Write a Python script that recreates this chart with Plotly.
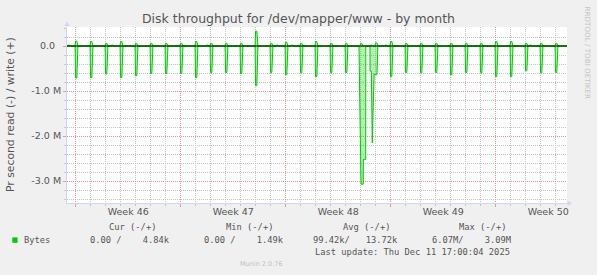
import plotly.graph_objects as go
from datetime import datetime, timedelta

# ---------------- data ----------------
x_start = "2025-11-08 10:05"
x_end = "2025-12-11 18:05"

spike_days = [
    "2025-11-09", "2025-11-10", "2025-11-11", "2025-11-12", "2025-11-13",
    "2025-11-14", "2025-11-15", "2025-11-16", "2025-11-17", "2025-11-18",
    "2025-11-19", "2025-11-20", "2025-11-21", "2025-11-22", "2025-11-23",
    "2025-11-24", "2025-11-25", "2025-11-26", "2025-11-27", "2025-11-28",
    "2025-11-29", "2025-11-30", "2025-12-01", "2025-12-02", "2025-12-03",
    "2025-12-04", "2025-12-05", "2025-12-06", "2025-12-07", "2025-12-08",
    "2025-12-09", "2025-12-10", "2025-12-11",
]
# nightly read peaks (MB/s, plotted negative); None = see anomaly arrays
read_peak_M = [
    -0.71, -0.70, -0.62, -0.70, -0.66, -0.61, -0.61, -0.61, -0.70, -0.59,
    -0.59, -0.61, -0.88, -0.59, -0.64, -0.59, -0.68, -0.59, -0.59, None,
    None, -0.68, -0.59, -0.59, -0.59, -0.64, -0.59, -0.59, -0.68, -0.68,
    -0.55, -0.59, -0.59,
]
# nightly write peaks (MB/s, positive)
write_peak_M = [
    0.11, 0.10, 0.06, 0.10, 0.06, 0.06, 0.06, 0.06, 0.10, 0.06,
    0.06, 0.06, 0.33, 0.06, 0.08, 0.06, 0.10, 0.06, 0.06, 0.06,
    0.07, 0.10, 0.06, 0.06, 0.06, 0.06, 0.06, 0.06, 0.10, 0.10,
    0.06, 0.06, 0.06,
]
# the large read burst around 28 Nov
anomaly_read_times = [
    "2025-11-27 21:15", "2025-11-28 00:30", "2025-11-28 04:05", "2025-11-28 04:15",
    "2025-11-28 08:00", "2025-11-28 08:10", "2025-11-28 14:50", "2025-11-28 15:00",
    "2025-11-28 17:00", "2025-11-28 18:30", "2025-11-28 21:30", "2025-11-29 02:00",
    "2025-11-29 03:30",
]
anomaly_read_M = [0, -3.07, -3.07, -2.52, -2.52, 0, 0, -0.56, -0.56, -2.15, -0.63, -0.63, 0]
# small daytime write bumps
bump_times = [
    "2025-11-08 12:00", "2025-11-11 09:30", "2025-11-17 17:30", "2025-11-22 09:30",
    "2025-11-23 09:30", "2025-11-28 16:00", "2025-11-29 15:00", "2025-12-06 15:00",
    "2025-12-09 07:00",
]
bump_write_M = [0.02, 0.02, 0.02, 0.02, 0.02, 0.02, 0.02, 0.015, 0.02]

week_lines = ["2025-11-09", "2025-11-16", "2025-11-23", "2025-11-30", "2025-12-07"]
week_label_pos = ["2025-11-12 12:00", "2025-11-19 12:00", "2025-11-26 12:00",
                  "2025-12-03 12:00", "2025-12-10 12:00"]
week_labels = ["Week 46", "Week 47", "Week 48", "Week 49", "Week 50"]

ytick_vals = [0, -1e6, -2e6, -3e6]
ytick_text = ["0.0\u00a0\u00a0", "-1.0 M", "-2.0 M", "-3.0 M"]
y_range = [-3.489e6, 0.4222e6]

legend_headers = ["Cur (-/+)", "Min (-/+)", "Avg (-/+)", "Max (-/+)"]
legend_values = ["0.00 /    4.84k", "0.00 /    1.49k", "99.42k/   13.72k", "6.07M/    3.09M"]
last_update = "Last update: Thu Dec 11 17:00:04 2025"

# ---------------- helpers ----------------
PULSE_OFFS_H = [-1.0, -0.2, 1.8, 3.6]
PULSE_SCALE = [0, 1, 1, 0]


def pulses(times, peaks):
    pts = []
    for t, p in zip(times, peaks):
        if p is None:
            continue
        t0 = datetime.fromisoformat(t)
        for off, m in zip(PULSE_OFFS_H, PULSE_SCALE):
            pts.append((t0 + timedelta(hours=off), p * m * 1e6))
    return pts


def series(points):
    points = [(datetime.fromisoformat(x_start), 0.0)] + points + [(datetime.fromisoformat(x_end), 0.0)]
    points.sort(key=lambda p: p[0])
    return [p[0] for p in points], [p[1] for p in points]


read_pts = pulses(spike_days, read_peak_M)
read_pts += [(datetime.fromisoformat(t), v * 1e6) for t, v in zip(anomaly_read_times, anomaly_read_M)]
rx, ry = series(read_pts)

write_pts = pulses(spike_days, write_peak_M) + pulses(bump_times, bump_write_M)
wx, wy = series(write_pts)

# pixel geometry of the canvas
W, H = 597, 275
L, R, T, B = 67, 567, 27, 203


def px(x):
    return (x - L) / (R - L)


def py(y):
    return (B - y) / (B - T)


GREEN = "#00cc00"
FILL = "rgba(0,204,0,0.30)"
TXT = "#555555"
GRID = "#c6c6c6"
MGRID = "#e59a9a"
AXIS = "#cfd6f8"
DOT = "1px,1px"

fig = go.Figure()
fig.add_trace(go.Scatter(x=rx, y=ry, mode="lines", line=dict(color=GREEN, width=1),
                         fill="tozeroy", fillcolor=FILL, hoverinfo="skip", xaxis="x", yaxis="y"))
fig.add_trace(go.Scatter(x=wx, y=wy, mode="lines", line=dict(color=GREEN, width=1),
                         fill="tozeroy", fillcolor=FILL, hoverinfo="skip", xaxis="x2", yaxis="y"))

tickfont = dict(family="DejaVu Sans", size=9.5, color=TXT)

fig.update_layout(
    width=W, height=H,
    margin=dict(l=L, r=W - R, t=T, b=H - B, pad=0),
    paper_bgcolor="#f0f0f0", plot_bgcolor="#ffffff",
    showlegend=False,
    title=dict(text="Disk throughput for /dev/mapper/www - by month",
               x=0.5, xanchor="center", y=1 - 19 / H, yanchor="middle", yref="container",
               font=dict(family="DejaVu Sans", size=12.5, color=TXT)),
    xaxis=dict(type="date", range=[x_start, x_end], tickmode="array",
               tickvals=week_label_pos, ticktext=week_labels, ticks="",
               showgrid=False, zeroline=False, showline=True, linecolor=AXIS, linewidth=1,
               tickfont=tickfont,
               minor=dict(tickmode="linear", tick0="2025-11-09", dtick=86400000,
                          showgrid=True, gridcolor=GRID, griddash=DOT, gridwidth=1,
                          ticks="outside", ticklen=2, tickcolor=GRID)),
    xaxis2=dict(type="date", range=[x_start, x_end], overlaying="x", anchor="y", side="bottom",
                tickmode="array", tickvals=week_lines, showticklabels=False,
                showgrid=True, gridcolor=MGRID, griddash=DOT, gridwidth=1,
                ticks="outside", ticklen=3, tickcolor=MGRID, showline=False, zeroline=False),
    yaxis=dict(range=y_range, tickmode="array", tickvals=ytick_vals, ticktext=ytick_text,
               showgrid=True, gridcolor=MGRID, griddash=DOT, gridwidth=1,
               ticks="outside", ticklen=3, tickcolor=MGRID, zeroline=False,
               showline=True, linecolor=AXIS, linewidth=1, tickfont=tickfont,
               minor=dict(tickmode="linear", tick0=0, dtick=2e5, showgrid=True,
                          gridcolor=GRID, griddash=DOT, gridwidth=1,
                          ticks="outside", ticklen=2, tickcolor=GRID)),
)

shapes = [
    # zero line drawn on top of the data
    dict(type="line", xref="paper", yref="y", x0=0, x1=1, y0=0, y1=0,
         line=dict(color="#000000", width=1), layer="above"),
    # axis arrows
    dict(type="path", xref="paper", yref="paper", layer="above",
         path=f"M {px(64.2)},{py(26)} L {px(66.9)},{py(21.5)} L {px(69.6)},{py(26)} Z",
         fillcolor=AXIS, line=dict(color=AXIS, width=0)),
    dict(type="path", xref="paper", yref="paper", layer="above",
         path=f"M {px(567.5)},{py(200.6)} L {px(572.2)},{py(203.3)} L {px(567.5)},{py(206)} Z",
         fillcolor=AXIS, line=dict(color=AXIS, width=0)),
    # legend swatch
    dict(type="rect", xref="paper", yref="paper", x0=px(12.3), x1=px(17.6), y0=py(242.8), y1=py(237.4),
         fillcolor=GREEN, line=dict(width=0)),
]
fig.update_layout(shapes=shapes)

mono = dict(family="DejaVu Sans Mono", size=8.75, color=TXT)
NB = "\u00a0"


def ann(text, x, y, font, xanchor="left", angle=0):
    return dict(text=text.replace(" ", NB), x=px(x), y=py(y), xref="paper", yref="paper",
                xanchor=xanchor, yanchor="middle", showarrow=False, font=font,
                textangle=angle, borderpad=0)


annotations = [
    ann("Pr second read (-) / write (+)", 10, 115, dict(family="DejaVu Sans", size=10.8, color=TXT),
        xanchor="center", angle=-90),
    ann("RRDTOOL / TOBI OETIKER", 587.5, 53, dict(family="DejaVu Sans", size=7.2, color="#c4c4c4"),
        xanchor="center", angle=90),
    ann("Munin 2.0.76", 261, 264, dict(family="DejaVu Sans", size=6.5, color="#c0c0c0"),
        xanchor="center"),
    ann("Bytes", 23, 240, mono),
    ann(last_update, 510.5, 252.3, mono, xanchor="right"),
]
for text, x in zip(legend_headers, [108.3, 225, 341.7, 457.7]):
    annotations.append(ann(text, x, 227.3, mono))
for text, x in zip(legend_values, [88.7, 202.7, 311.7, 431]):
    annotations.append(ann(text, x, 240, mono))
fig.update_layout(annotations=annotations)

fig.write_html("out.html", config={"displayModeBar": False})
